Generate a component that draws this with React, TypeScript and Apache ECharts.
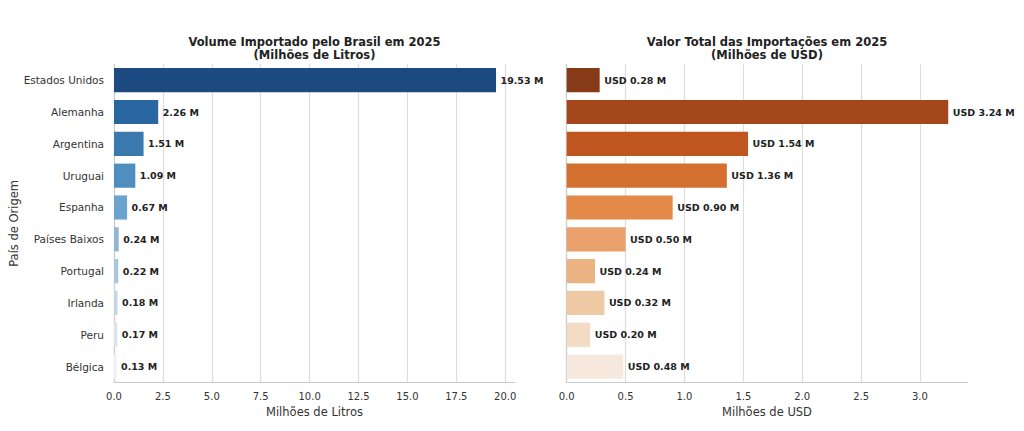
import React, { useEffect, useRef } from "react";
import * as echarts from "echarts";

const countries = [
  "Estados Unidos",
  "Alemanha",
  "Argentina",
  "Uruguai",
  "Espanha",
  "Países Baixos",
  "Portugal",
  "Irlanda",
  "Peru",
  "Bélgica",
];
const volumeLiters = [19.53, 2.26, 1.51, 1.09, 0.67, 0.24, 0.22, 0.18, 0.17, 0.13];
const valueUsd = [0.28, 3.24, 1.54, 1.36, 0.9, 0.5, 0.24, 0.32, 0.2, 0.48];

const bluePalette = [
  "#1b4b80", "#2a66a0", "#3a78ae", "#4f8fc0", "#6aa3ce",
  "#8fb6d4", "#a9c8dd", "#c4d6e4", "#dbe3ec", "#eef0f4",
];
const orangePalette = [
  "#873a18", "#a4481b", "#c0561f", "#d3702f", "#e38a48",
  "#e9a06a", "#ebb282", "#efc9a4", "#f4dcc4", "#f6e8dc",
];

const FONT = "DejaVu Sans";

export default function App() {
  const ref = useRef<HTMLDivElement>(null);
  useEffect(() => {
    if (!ref.current) return;
    const chart = echarts.init(ref.current, undefined, { renderer: "svg" });
    const gridL = { left: 114, right: 509, top: 64.3, bottom: 48.5 };
    const gridR = { left: 566.7, right: 56.7, top: 64.3, bottom: 48.5 };
    const xCommon = {
      type: "value" as const,
      min: 0,
      nameLocation: "middle" as const,
      nameGap: 22,
      nameTextStyle: { fontFamily: FONT, fontSize: 11.5, color: "#333" },
      axisLine: { show: true, lineStyle: { color: "#cccccc", width: 1.2 } },
      axisTick: { show: false },
      splitLine: { show: true, showMaxLine: false, lineStyle: { color: "#dddddd", width: 1.2 } },
    };
    const labelStyle = {
      show: true,
      position: "right" as const,
      distance: 4.5,
      fontFamily: FONT,
      fontSize: 9.5,
      fontWeight: "bold" as const,
      color: "#222",
    };
    const titleStyle = {
      fontFamily: FONT,
      fontSize: 11.5,
      fontWeight: "bold" as const,
      color: "#222",
      lineHeight: 13,
    };
    chart.setOption({
      animation: false,
      backgroundColor: "#ffffff",
      title: [
        {
          text: "Volume Importado pelo Brasil em 2025\n(Milhões de Litros)",
          left: 314.5,
          top: 35.5,
          textAlign: "center",
          padding: 0,
          textStyle: titleStyle,
        },
        {
          text: "Valor Total das Importações em 2025\n(Milhões de USD)",
          left: 767,
          top: 35.5,
          textAlign: "center",
          padding: 0,
          textStyle: titleStyle,
        },
      ],
      grid: [gridL, gridR],
      xAxis: [
        {
          ...xCommon,
          gridIndex: 0,
          max: 20.5,
          interval: 2.5,
          name: "Milhões de Litros",
          axisLabel: {
            fontFamily: FONT,
            fontSize: 10,
            color: "#333",
            margin: 9,
            showMaxLabel: false,
            formatter: (v: number) => v.toFixed(1),
          },
        },
        {
          ...xCommon,
          gridIndex: 1,
          max: 3.402,
          interval: 0.5,
          name: "Milhões de USD",
          axisLabel: {
            fontFamily: FONT,
            fontSize: 10,
            color: "#333",
            margin: 9,
            showMaxLabel: false,
            formatter: (v: number) => v.toFixed(1),
          },
        },
      ],
      yAxis: [
        {
          type: "category",
          gridIndex: 0,
          data: countries,
          inverse: true,
          name: "País de Origem",
          nameLocation: "middle",
          nameGap: 94,
          nameRotate: 90,
          nameTextStyle: { fontFamily: FONT, fontSize: 11.5, color: "#333" },
          axisLine: { show: true, lineStyle: { color: "#cccccc", width: 1.2 } },
          axisTick: { show: false },
          axisLabel: { fontFamily: FONT, fontSize: 10.5, color: "#333", margin: 10 },
          splitLine: { show: false },
        },
        {
          type: "category",
          gridIndex: 1,
          data: countries,
          inverse: true,
          axisLine: { show: true, lineStyle: { color: "#cccccc", width: 1.2 } },
          axisTick: { show: false },
          axisLabel: { show: false },
          splitLine: { show: false },
        },
      ],
      series: [
        {
          type: "bar",
          xAxisIndex: 0,
          yAxisIndex: 0,
          barCategoryGap: "24%",
          data: volumeLiters.map((v, i) => ({ value: v, itemStyle: { color: bluePalette[i] } })),
          label: { ...labelStyle, formatter: (p: any) => `${Number(p.value).toFixed(2)} M` },
        },
        {
          type: "bar",
          xAxisIndex: 1,
          yAxisIndex: 1,
          barCategoryGap: "24%",
          data: valueUsd.map((v, i) => ({ value: v, itemStyle: { color: orangePalette[i] } })),
          label: { ...labelStyle, formatter: (p: any) => `USD ${Number(p.value).toFixed(2)} M` },
        },
      ],
    });
    return () => chart.dispose();
  }, []);
  return (
    <div
      ref={ref}
      style={{ position: "fixed", left: 0, top: 0, width: 1024, height: 431, background: "#fff" }}
    />
  );
}
